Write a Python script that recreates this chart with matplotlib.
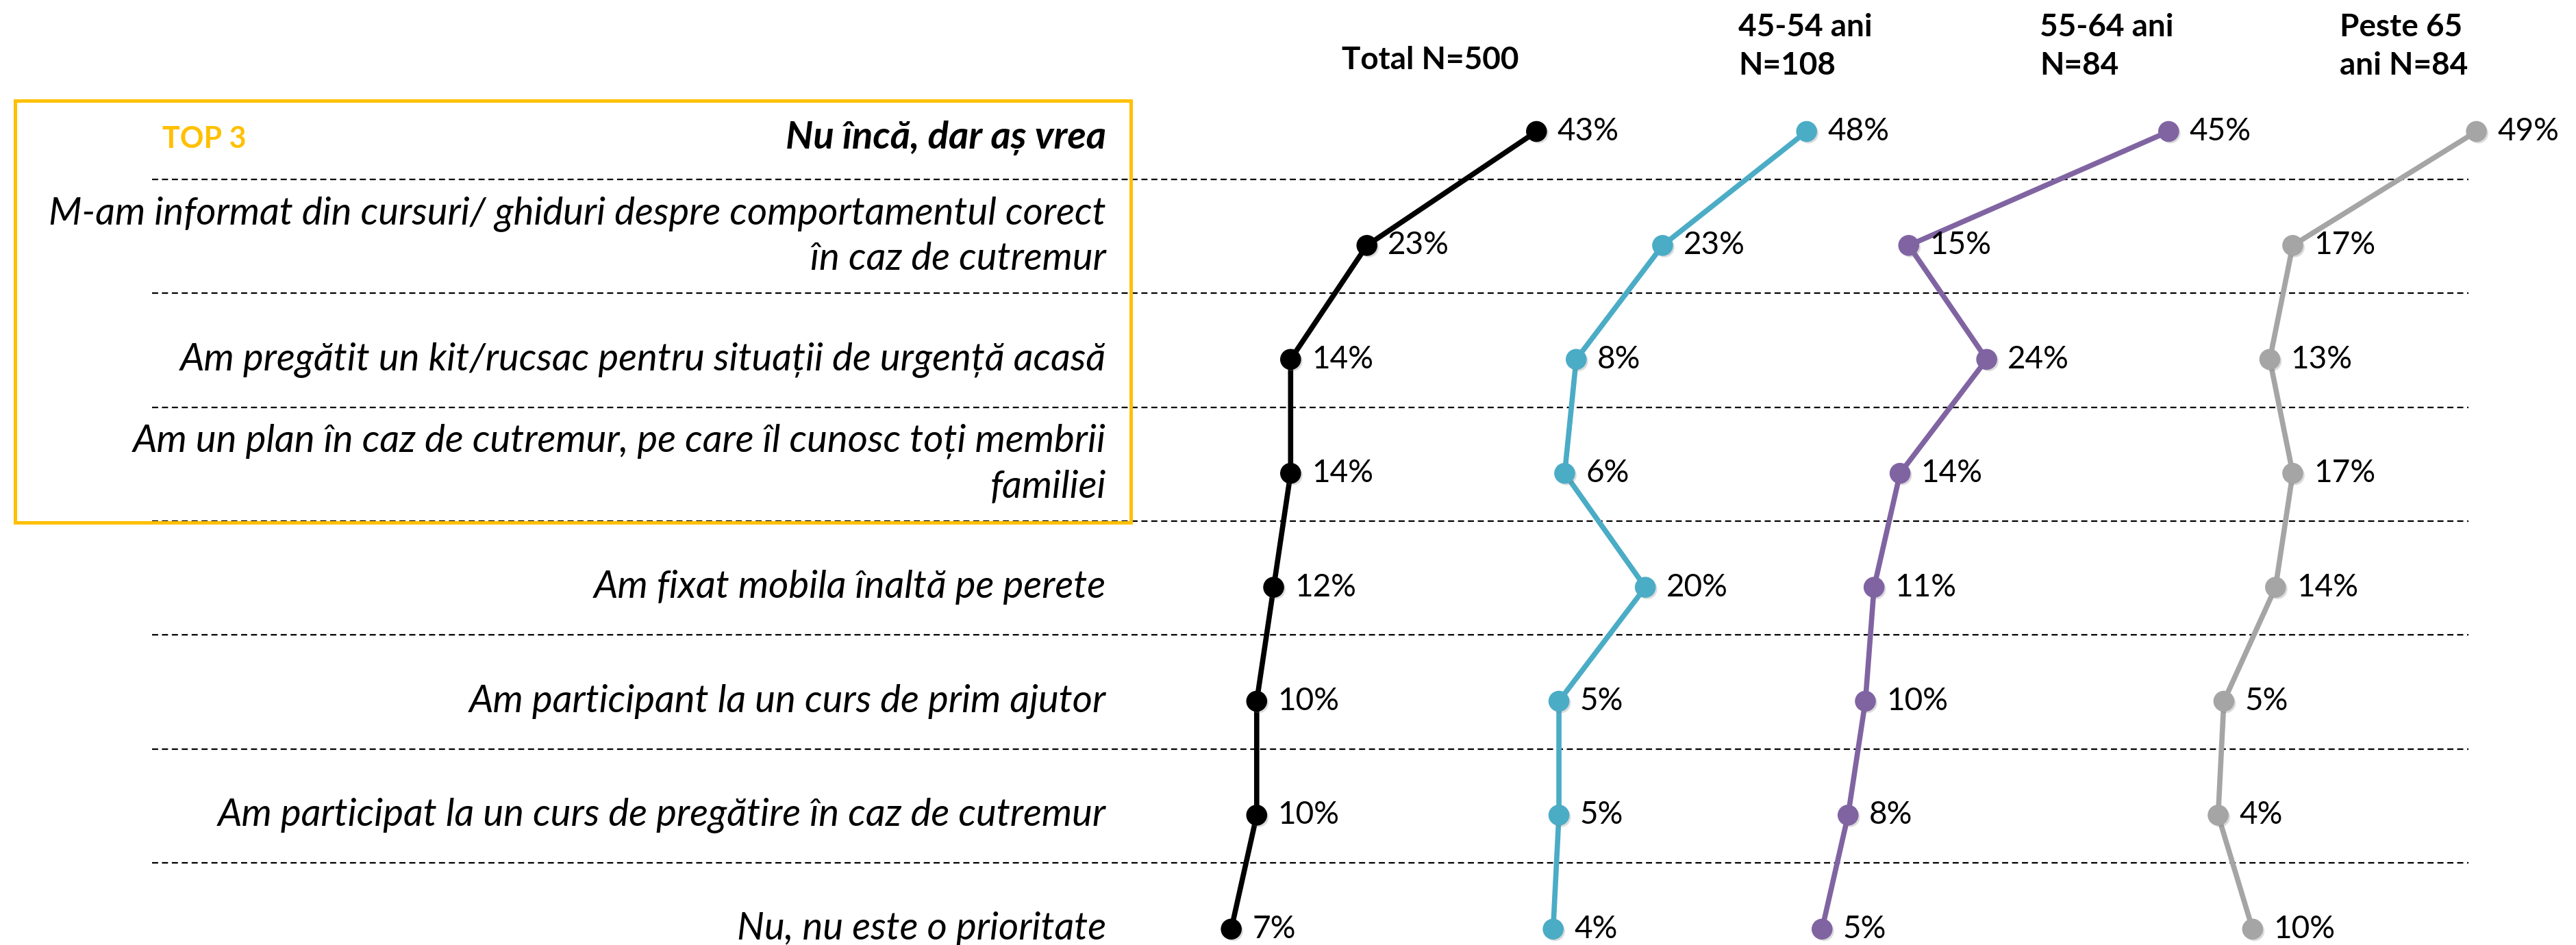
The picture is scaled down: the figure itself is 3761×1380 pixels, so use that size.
import matplotlib.pyplot as plt
import matplotlib.patheffects as pe
from matplotlib.patches import Rectangle

plt.rcParams["font.family"] = ["Lato", "DejaVu Sans"]

# answers, top to bottom
labels = [
    "Nu încă, dar aș vrea",
    "M-am informat din cursuri/ ghiduri despre comportamentul corect\nîn caz de cutremur",
    "Am pregătit un kit/rucsac pentru situații de urgență acasă",
    "Am un plan în caz de cutremur, pe care îl cunosc toți membrii\nfamiliei",
    "Am fixat mobila înaltă pe perete",
    "Am participant la un curs de prim ajutor",
    "Am participat la un curs de pregătire în caz de cutremur",
    "Nu, nu este o prioritate",
]
groups = ["Total N=500", "45-54 ani\nN=108", "55-64 ani\nN=84", "Peste 65\nani N=84"]

total = [43, 23, 14, 14, 12, 10, 10, 7]
age_45_54 = [48, 23, 8, 6, 20, 5, 5, 4]
age_55_64 = [45, 15, 24, 14, 11, 10, 8, 5]
age_65 = [49, 17, 13, 17, 14, 5, 4, 10]

series = [total, age_45_54, age_55_64, age_65]
colors = ["#000000", "#4BACC6", "#8064A2", "#A5A5A5"]

W, H = 3762, 1380
fig = plt.figure(figsize=(W / 100, H / 100), dpi=100)

# one row per answer, first row 192 px from the top, 166.4 px apart
top, step = 192, 166.4
ylim = ((H - top) / step, -top / step)


def row(px):
    return (px - top) / step


base = fig.add_axes([0, 0, 1, 1])
base.set_xlim(0, W)
base.set_ylim(*ylim)
base.axis("off")

# dotted separators between answers
n = len(labels)
base.hlines([i + 0.42 for i in range(n - 1)], 222, 3604, colors="black",
            linewidth=1.6, linestyles=(0, (4, 2.5)), zorder=1)

# answer labels
for i, lab in enumerate(labels):
    first = i == 0
    dy = -0.08 if "\n" in lab else (0.06 if first else 0.0)
    base.text(1615, i + dy, lab, ha="right", va="center",
              fontsize=40.5, style="italic", fontweight="bold" if first else "normal",
              linespacing=1.38)

# TOP 3 highlight box
base.add_patch(Rectangle((22, row(147)), 1651 - 22, row(763) - row(147), fill=False,
                         edgecolor="#FFC000", linewidth=3.6, zorder=2))
base.text(237, row(203), "TOP 3", ha="left", va="center", fontsize=31,
          fontweight="bold", color="#FFC000")

# one small panel per group: left edge (px) and px per percentage point
panel_x0 = [1711, 2234, 2597, 3205]
panel_scale = [12.38, 8.41, 12.65, 8.38]
header_x = [1959, 2538, 2978, 3416]

shadow = [pe.SimplePatchShadow(offset=(2, -2), shadow_rgbFace="0.45", alpha=0.25), pe.Normal()]

for vals, col, x0, sc, name, hx in zip(series, colors, panel_x0, panel_scale, groups, header_x):
    ax = fig.add_axes([x0 / W, 0, 50 * sc / W, 1])
    ax.set_xlim(0, 50)
    ax.set_ylim(*ylim)
    ax.axis("off")
    ys = list(range(n))
    ax.plot(vals, ys, color=col, linewidth=5.5, solid_capstyle="round",
            clip_on=False, zorder=3)
    ax.plot(vals, ys, linestyle="none", marker="o", markersize=21, color=col,
            clip_on=False, zorder=4, path_effects=shadow)
    for v, y in zip(vals, ys):
        ax.annotate(f"{v}%", (v, y), xytext=(22, 0), textcoords="offset points",
                    ha="left", va="center", fontsize=33, annotation_clip=False)
    hy = row(88) if "\n" not in name else row(68)
    base.text(hx, hy, name, ha="left", va="center", fontsize=33, fontweight="bold",
              linespacing=1.4)

fig.savefig("out.png", dpi=100)
